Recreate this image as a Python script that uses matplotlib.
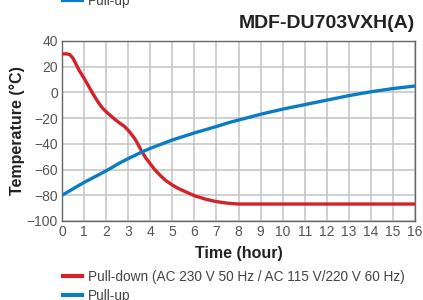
import matplotlib
matplotlib.use('Agg')
import matplotlib.pyplot as plt
from matplotlib.lines import Line2D

plt.rcParams['font.family'] = ['Liberation Sans', 'DejaVu Sans']

# values
down_t = [0, 0.2, 0.35, 0.5, 0.65, 0.8, 1, 1.2, 1.4, 1.6, 1.8, 2.0, 2.2, 2.4, 2.6, 2.8, 2.95,
          3.1, 3.3, 3.45, 3.6, 3.8, 4, 4.2, 4.45, 4.7, 5, 5.25, 5.5, 6, 6.5, 6.9, 7.3, 7.6, 8, 16]
down_temp = [30, 30, 29.5, 26.5, 21.5, 16.5, 11, 5, -1, -6.5, -11.5, -15, -18, -21, -23.7, -26, -28.5,
             -31.5, -36, -40.5, -45.5, -51, -55.5, -60, -64.5, -68.5, -72, -74.5, -76.5, -80.3, -83, -84.6, -85.7, -86.3, -86.8, -86.8]

up_t = [0, 0.5, 1, 1.5, 2, 2.6, 3, 3.6, 4, 5, 6, 7, 7.6, 8, 9, 10, 11, 12, 13, 14, 15, 16]
up_temp = [-80, -75, -70, -65.5, -61, -55, -51.5, -46.5, -43.5, -37, -31.5, -26.5, -23.3, -21.5, -17,
           -13, -9.5, -6, -2.5, 0.5, 3, 5]

x_ticks = list(range(0, 17))
y_ticks = list(range(-100, 41, 20))

title = 'MDF-DU703VXH(A)'
label_down = 'Pull-down (AC 230 V 50 Hz / AC 115 V/220 V 60 Hz)'
label_up = 'Pull-up'

red = '#d2232a'
blue = '#0a7dc2'

W, H = 423, 300
fig = plt.figure(figsize=(W / 100, H / 100), dpi=100)
ax = fig.add_axes([62 / W, 1 - 221 / H, 353 / W, 180 / H])

ax.plot(down_t, down_temp, color=red, lw=2.4, solid_capstyle='butt',
        solid_joinstyle='round', zorder=3)
ax.plot(up_t, up_temp, color=blue, lw=2.4, solid_capstyle='butt',
        solid_joinstyle='round', zorder=4)

ax.set_xlim(0, 16)
ax.set_ylim(-100, 40)
ax.set_xticks(x_ticks)
ax.set_yticks(y_ticks)
ax.grid(True, color='#c4c4c4', lw=1.1)
ax.set_axisbelow(True)
ax.tick_params(length=0, pad=3, labelsize=10, labelcolor='#555555')
for s in ax.spines.values():
    s.set_color('#666666')
    s.set_linewidth(1.0)

ax.set_xlabel('Time (hour)', fontsize=11.5, fontweight='bold', color='#222222', labelpad=5)
ax.set_ylabel('Temperature (°C)', fontsize=11.5, fontweight='bold', color='#222222', labelpad=1)

fig.text(415 / W, 1 - 23 / H, title, ha='right', va='center', fontsize=14,
         fontweight='bold', color='#222222')

handles = [Line2D([], [], color=red, lw=3), Line2D([], [], color=blue, lw=3)]
fig.legend(handles, [label_down, label_up], loc='upper left',
           bbox_to_anchor=(63 / W, 1 - 270 / H), frameon=False, fontsize=9.8,
           handlelength=1.4, handletextpad=0.45, labelspacing=0.35,
           borderpad=0, borderaxespad=0, labelcolor='#444444')

# remnant of the previous chart's legend cut off at the top
fig.legend([Line2D([], [], color=blue, lw=3)], [label_up], loc='center left',
           bbox_to_anchor=(63 / W, 1 - 1 / H), frameon=False, fontsize=9.8,
           handlelength=1.4, handletextpad=0.45,
           borderpad=0, borderaxespad=0, labelcolor='#444444')

fig.savefig('out.png', dpi=100)
